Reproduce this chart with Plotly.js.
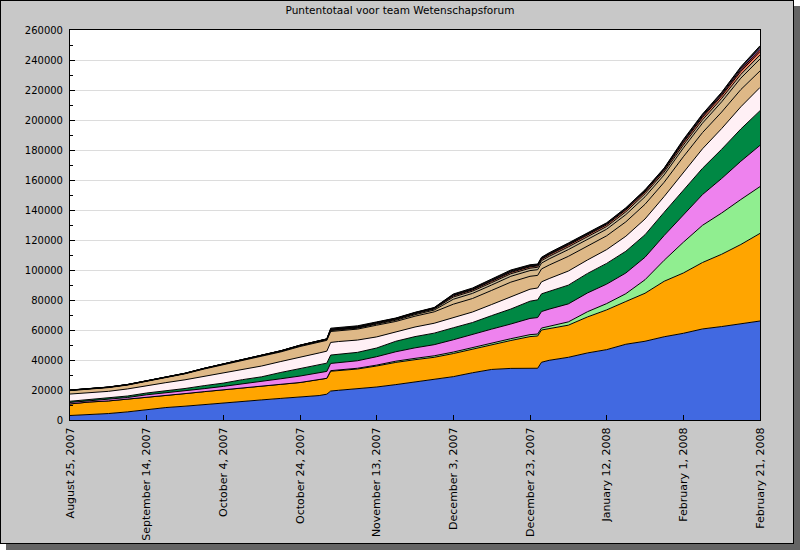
<!DOCTYPE html>
<html>
<head>
<meta charset="utf-8">
<script src="https://cdn.plot.ly/plotly-3.0.1.min.js"></script>
<style>
  html, body { margin:0; padding:0; background:#ffffff; }
  #frame { position:absolute; left:0; top:0; width:792px; height:542px; background:#C8C8C8; border:1px solid #000; box-shadow:6px 6px 0 #646464; }
  #chart { position:absolute; left:0; top:0; width:800px; height:550px; }
</style>
</head>
<body>
<div id="frame"></div>
<div id="chart"></div>
<script>
const chartTitle = 'Puntentotaal voor team Wetenschapsforum';

const dates = ['2007-08-25','2007-08-30','2007-09-04','2007-09-09','2007-09-14','2007-09-19','2007-09-24','2007-09-29','2007-10-04','2007-10-09','2007-10-14','2007-10-19','2007-10-24','2007-10-29','2007-10-31','2007-11-01','2007-11-03','2007-11-08','2007-11-13','2007-11-18','2007-11-23','2007-11-28','2007-12-03','2007-12-08','2007-12-13','2007-12-18','2007-12-23','2007-12-25','2007-12-26','2007-12-28','2008-01-02','2008-01-07','2008-01-12','2008-01-17','2008-01-22','2008-01-27','2008-02-01','2008-02-06','2008-02-11','2008-02-16','2008-02-21'];

const tickDates = ['2007-08-25','2007-09-14','2007-10-04','2007-10-24','2007-11-13','2007-12-03','2007-12-23','2008-01-12','2008-02-01','2008-02-21'];
const tickLabels = ['August 25, 2007','September 14, 2007','October 4, 2007','October 24, 2007','November 13, 2007','December 3, 2007','December 23, 2007','January 12, 2008','February 1, 2008','February 21, 2008'];

// points per member, stacked bottom to top
const blue   = [3000,3600,4300,5400,7000,8300,9200,10300,11600,12800,13400,14400,15300,16300,17200,19300,19800,20800,22000,23600,25200,26900,28900,31500,33700,34400,34400,34500,38500,39800,41800,44700,46900,50500,52500,55500,57800,60700,62300,64200,66000];
const orange = [7700,8400,8400,8400,8400,8100,8400,8600,8400,8400,8800,9400,9700,10500,10600,13200,13200,13200,14000,14800,15000,14900,15400,15800,16800,18600,21200,21500,21500,21200,21400,24000,26500,28500,32000,37000,40200,44300,48200,52800,58400];
const lightgreen = [0,0,0,0,0,0,0,0,0,0,0,0,0,0,0,400,400,500,600,800,900,1000,1000,1000,1100,1200,1300,1300,1300,1600,2200,3500,4200,5200,9000,14000,20500,24800,27500,30000,31200];
const violet = [1000,800,900,1200,1400,1600,1800,2000,2400,2800,3200,3700,4300,4500,4600,4800,4800,5000,5600,6300,7000,7400,8200,8500,9000,9800,10800,11000,11000,11300,12000,12500,13000,13800,15000,16500,18500,20500,23000,25500,27500];
const green  = [800,800,900,1000,1200,1400,1600,2000,2200,2900,3400,4200,5000,5400,5500,5600,5700,5600,5800,7000,7500,7700,8000,8200,9000,10000,11500,11800,11800,12000,12500,13000,13800,14500,15000,15500,16000,17500,19500,21500,23100];
const pink   = [4800,4600,4600,4700,5000,5500,5800,6300,6800,7000,7200,7300,7800,8000,8000,8400,8400,8200,7400,6300,6400,6600,6800,7000,7400,8000,8000,7900,8000,8400,9400,9000,9200,10000,10500,10500,12000,13000,13800,14800,15500];
const burly1 = [2300,2400,2500,2600,2900,3400,4000,4800,5500,6000,6300,6400,6900,7200,7200,7300,7300,7300,7800,6900,7200,7600,8900,9000,9400,9900,8600,8400,8600,9000,9800,9200,9200,9600,9800,9500,10500,10800,11000,11500,11000];
const burly2 = [200,200,200,200,200,200,200,300,300,300,400,400,400,500,500,600,600,600,700,800,1000,1200,3300,3400,3600,3900,3800,3800,3900,4100,4500,4300,4400,4800,5000,4900,5800,6300,6800,7600,8000];
const grayTan = [100,100,100,100,100,100,100,100,100,100,100,200,200,200,200,300,300,300,400,500,600,700,1500,1500,1600,1700,1600,1600,1600,1700,1800,1800,1800,1900,2000,1900,2000,2200,2300,2500,2600];
const coral  = [0,0,0,0,0,0,0,0,0,100,100,100,200,200,200,300,300,300,400,400,400,400,800,800,900,900,900,900,900,1000,1100,1100,1100,1200,1200,1200,1500,1600,1700,2000,2300];
const red    = [0,0,0,0,0,0,0,0,0,0,0,0,0,0,0,200,200,200,200,200,200,200,400,400,500,500,500,500,500,500,600,600,600,600,600,600,800,900,1000,1200,1500];
const purple = [0,0,0,0,0,0,0,0,0,0,0,0,0,0,0,200,200,200,200,200,200,200,400,400,500,500,400,400,400,400,400,400,400,500,500,500,800,800,800,1000,1300];
const dark   = [100,100,100,100,100,100,100,100,100,100,100,100,100,100,100,600,600,600,300,200,200,200,400,500,500,600,500,400,500,500,500,400,400,400,400,400,600,600,600,900,1100];

const seriesNames = ['Lid 1','Lid 2','Lid 3','Lid 4','Lid 5','Lid 6','Lid 7','Lid 8','Lid 9','Lid 10','Lid 11','Lid 12','Lid 13'];
const seriesValues = [blue, orange, lightgreen, violet, green, pink, burly1, burly2, grayTan, coral, red, purple, dark];
const seriesColors = ['#4169E1','#FFA500','#90EE90','#EE82EE','#008844','#FFF0F5','#DEB887','#D7B98C','#C4B494','#F08060','#C83232','#9370DB','#282828'];

const traces = seriesValues.map((vals, i) => ({
  type: 'scatter',
  mode: 'lines',
  x: dates,
  y: vals,
  name: seriesNames[i],
  stackgroup: 'team',
  fillcolor: seriesColors[i],
  line: { color: '#000000', width: 1, shape: 'linear' },
  hoverinfo: 'skip'
}));

const layout = {
  width: 800, height: 550,
  paper_bgcolor: 'rgba(0,0,0,0)',
  plot_bgcolor: '#FFFFFF',
  margin: { l: 70, r: 40, t: 30, b: 130, pad: 0 },
  font: { family: 'DejaVu Sans', size: 10, color: '#000000' },
  title: { text: chartTitle, x: 0.5, xref: 'container', xanchor: 'center', y: 1 - 10/550, yref: 'container', yanchor: 'middle', font: { family: 'DejaVu Sans', size: 10.5, color: '#000000' } },
  showlegend: false,
  hovermode: false,
  xaxis: {
    type: 'date',
    range: [dates[0], dates[dates.length - 1]],
    tickmode: 'array', tickvals: tickDates, ticktext: tickLabels,
    tickangle: -90,
    ticks: 'inside', ticklen: 5, tickcolor: '#000000', tickwidth: 1,
    showline: true, linecolor: '#000000', linewidth: 1, mirror: true,
    showgrid: false, zeroline: false,
    ticklabelstandoff: 2,
    tickfont: { family: 'DejaVu Sans', size: 11 }
  },
  yaxis: {
    range: [0, 260000], tick0: 0, dtick: 20000, tickformat: 'd',
    ticks: 'inside', ticklen: 5, tickcolor: '#000000', tickwidth: 1,
    showline: true, linecolor: '#000000', linewidth: 1, mirror: true,
    showgrid: true, gridcolor: '#DCDCDC', gridwidth: 1, zeroline: false,
    ticklabelstandoff: 4,
    tickfont: { family: 'DejaVu Sans', size: 10 },
    minor: { dtick: 10000, tick0: 0, ticks: 'inside', ticklen: 3, tickcolor: '#000000', showgrid: false }
  }
};

Plotly.newPlot('chart', traces, layout, { displayModeBar: false, staticPlot: true });
</script>
</body>
</html>
